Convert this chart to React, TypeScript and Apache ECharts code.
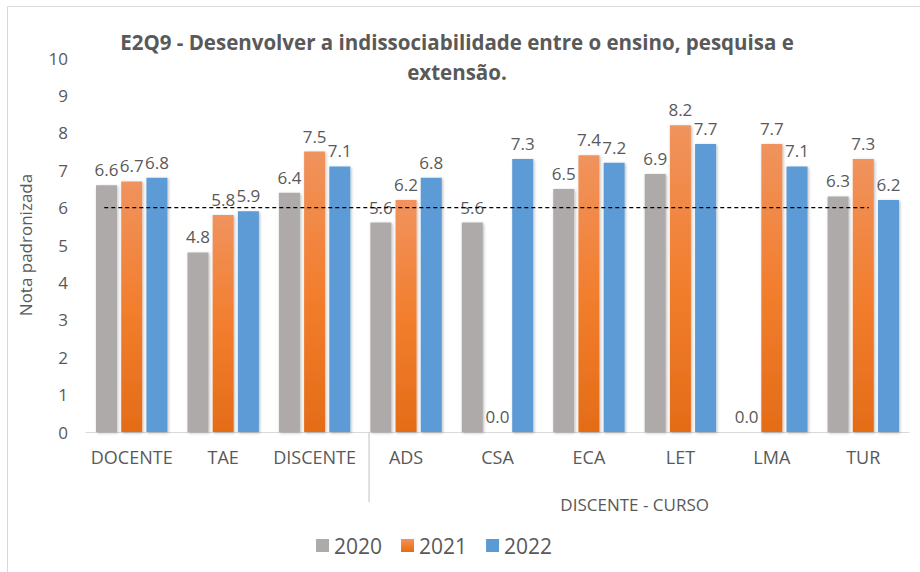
import React, { useEffect, useRef } from "react";
import * as echarts from "echarts";

const categories = ["DOCENTE", "TAE", "DISCENTE", "ADS", "CSA", "ECA", "LET", "LMA", "TUR"];
const seriesNames = ["2020", "2021", "2022"];
const values2020 = [6.6, 4.8, 6.4, 5.6, 5.6, 6.5, 6.9, 0.0, 6.3];
const values2021 = [6.7, 5.8, 7.5, 6.2, 0.0, 7.4, 8.2, 7.7, 7.3];
const values2022 = [6.8, 5.9, 7.1, 6.8, 7.3, 7.2, 7.7, 7.1, 6.2];
const yMin = 0;
const yMax = 10;
const yInterval = 1;
const targetValue = 6;
const groupLabel = "DISCENTE - CURSO";
const groupFirst = "ADS";
const groupLast = "TUR";
const titleText = "E2Q9 - Desenvolver a indissociabilidade entre o ensino, pesquisa e\nextensão.";
const yAxisName = "Nota padronizada";

// layout of the dashed reference line along category-index space
const REF_FROM = 0.2;
const REF_TO = 8.56;

const FONT = "'Open Sans', 'Noto Sans', sans-serif";
const TXT = "#595959";

export default function App() {
  const ref = useRef<HTMLDivElement>(null);
  useEffect(() => {
    document.body.style.margin = "0";
    if (!ref.current) return;
    const chart = echarts.init(ref.current, undefined, { renderer: "svg" });
    const shadow = {
      shadowColor: "rgba(0,0,0,0.28)",
      shadowBlur: 3,
      shadowOffsetX: 1,
      shadowOffsetY: 1,
    };
    const label = {
      show: true,
      position: "top" as const,
      distance: 7,
      color: TXT,
      fontSize: 17,
      fontFamily: FONT,
      formatter: (p: any) => Number(p.value).toFixed(1),
    };
    const colors = [
      "#AEAAAA",
      new echarts.graphic.LinearGradient(0, 0, 0, 1, [
        { offset: 0, color: "#F0935E" },
        { offset: 0.5, color: "#F27E2E" },
        { offset: 1, color: "#E46C17" },
      ]),
      "#5B9BD5",
    ];
    const data = [values2020, values2021, values2022];
    const barSeries = data.map((vals, i) => ({
      name: seriesNames[i],
      type: "bar",
      xAxisIndex: 0,
      barWidth: 21,
      barGap: "20%",
      data: vals,
      itemStyle: { color: colors[i], ...shadow },
      label,
    }));
    chart.setOption({
      animation: false,
      textStyle: { fontFamily: FONT },
      title: {
        text: titleText,
        left: 452,
        top: 22,
        textAlign: "center",
        textStyle: {
          fontFamily: FONT,
          fontSize: 20.5,
          fontWeight: "bold",
          color: TXT,
          lineHeight: 30,
        },
      },
      legend: {
        data: seriesNames,
        left: 311,
        top: 530,
        itemWidth: 13,
        itemHeight: 13,
        itemGap: 19,
        icon: "rect",
        textStyle: { fontSize: 21, color: TXT, fontFamily: FONT },
      },
      grid: { left: 86, right: 11, top: 58, bottom: 140, containLabel: false },
      xAxis: [
        {
          type: "category",
          data: categories,
          axisLine: { lineStyle: { color: "#D9D9D9", width: 1 } },
          axisTick: { show: false },
          axisLabel: { color: TXT, fontSize: 18, margin: 16, interval: 0, fontFamily: FONT },
        },
        {
          type: "value",
          min: 0,
          max: categories.length,
          show: false,
        },
      ],
      yAxis: {
        type: "value",
        min: yMin,
        max: yMax,
        interval: yInterval,
        name: yAxisName,
        nameLocation: "middle",
        nameGap: 52,
        nameTextStyle: { color: TXT, fontSize: 17, fontFamily: FONT },
        axisLine: { show: false },
        axisTick: { show: false },
        splitLine: { show: false },
        axisLabel: { color: TXT, fontSize: 17, margin: 18, fontFamily: FONT },
      },
      series: [
        ...barSeries,
        {
          name: "ref",
          type: "line",
          xAxisIndex: 1,
          data: [
            [REF_FROM, targetValue],
            [REF_TO, targetValue],
          ],
          symbol: "none",
          silent: true,
          lineStyle: { color: "#000000", width: 1.2, type: [4, 3] },
          z: 5,
        },
      ],
    });
    const xFirst = chart.convertToPixel({ xAxisIndex: 0 }, groupFirst) as number;
    const xLast = chart.convertToPixel({ xAxisIndex: 0 }, groupLast) as number;
    const y0 = chart.convertToPixel({ yAxisIndex: 0 }, 0) as number;
    const sepX = xFirst - 37;
    chart.setOption({
      graphic: [
        {
          type: "rect",
          shape: { x: 7.5, y: 6.5, width: 1000, height: 1000 },
          style: { fill: "none", stroke: "#D9D9D9", lineWidth: 1 },
          silent: true,
        },
        {
          type: "line",
          shape: { x1: sepX, y1: y0, x2: sepX, y2: y0 + 70 },
          style: { stroke: "#BFBFBF", lineWidth: 1 },
          silent: true,
        },
        {
          type: "text",
          x: (xFirst + xLast) / 2,
          y: y0 + 72,
          style: {
            text: groupLabel,
            fill: TXT,
            fontSize: 17,
            fontFamily: FONT,
            textAlign: "center",
            textVerticalAlign: "middle",
          },
          silent: true,
        },
      ],
    });
    return () => chart.dispose();
  }, []);
  return <div ref={ref} style={{ width: 920, height: 572 }} />;
}
